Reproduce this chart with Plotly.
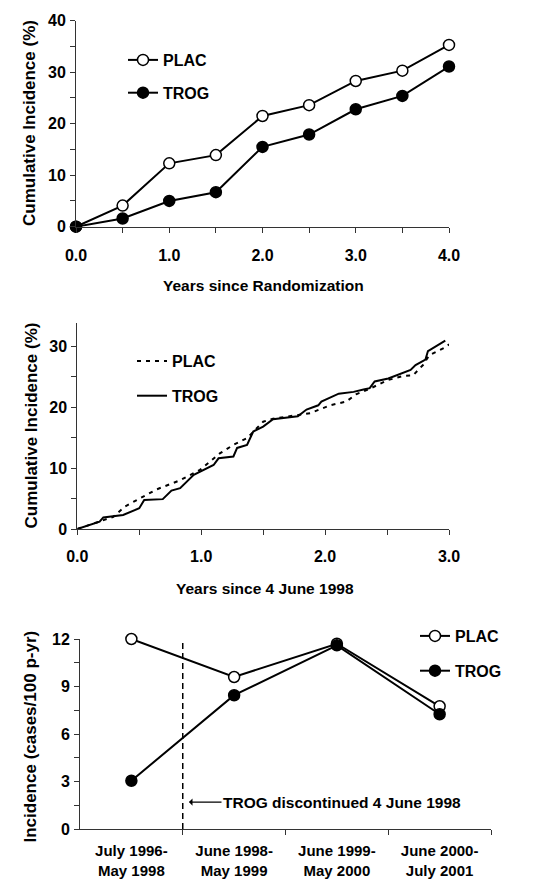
import plotly.graph_objects as go

# ---------------- Data ----------------
# Panel 1: cumulative incidence by years since randomization
years_rand = [0.0, 0.5, 1.0, 1.5, 2.0, 2.5, 3.0, 3.5, 4.0]
plac_cum = [0.0, 4.1, 12.3, 13.9, 21.5, 23.6, 28.3, 30.3, 35.3]
trog_cum = [0.0, 1.6, 5.0, 6.7, 15.5, 17.9, 22.8, 25.4, 31.1]

plac_t = [0.0, 0.13, 0.29, 0.385, 0.53, 0.64, 0.83, 0.99, 1.15, 1.26, 1.37, 1.5, 1.58,
          1.80, 1.88, 2.04, 2.17, 2.25, 2.36, 2.50, 2.63, 2.71, 2.79, 2.84, 2.98, 3.0]
plac_y = [0.0, 0.9, 2.0, 3.7, 5.3, 6.5, 8.0, 9.7, 12.4, 13.8, 14.9, 17.6, 18.1,
          18.7, 19.0, 20.3, 20.9, 22.1, 23.0, 24.4, 25.1, 25.2, 26.9, 28.5, 29.9, 30.3]
trog_t = [0.0, 0.18, 0.21, 0.37, 0.5, 0.54, 0.69, 0.76, 0.83, 0.94, 1.1, 1.14, 1.26,
          1.29, 1.37, 1.42, 1.5, 1.58, 1.78, 1.85, 1.945, 1.97, 2.11, 2.23, 2.31, 2.36,
          2.40, 2.51, 2.69, 2.73, 2.81, 2.83, 2.97]
trog_y = [0.0, 1.2, 1.9, 2.3, 3.4, 4.75, 4.9, 6.3, 6.7, 8.9, 10.5, 11.6, 11.9,
          13.3, 13.8, 16.0, 16.8, 18.0, 18.5, 19.6, 20.3, 20.9, 22.2, 22.5, 22.9, 23.1,
          24.2, 24.7, 26.1, 26.9, 27.8, 29.2, 30.9]

# Panel 3: incidence by period
periods = ["July 1996-<br>May 1998", "June 1998-<br>May 1999",
           "June 1999-<br>May 2000", "June 2000-<br>July 2001"]
period_pos = [0, 1, 2, 3]
plac_inc = [12.0, 9.6, 11.7, 7.75]
trog_inc = [3.05, 8.45, 11.6, 7.25]

FONT = "Liberation Sans"
W, H = 544, 893

def px_x(p):
    return p / W

def px_y(p):
    return (H - p) / H

fig = go.Figure()

open_marker = dict(symbol="circle", size=11, color="white", line=dict(color="black", width=1.5))
fill_marker = dict(symbol="circle", size=11, color="black", line=dict(color="black", width=1.5))

# Panel 1
fig.add_trace(go.Scatter(x=years_rand, y=plac_cum, mode="lines+markers", name="PLAC",
                         line=dict(color="black", width=2), marker=open_marker,
                         xaxis="x", yaxis="y", legend="legend", legendgroup="g0",
                         cliponaxis=False))
fig.add_trace(go.Scatter(x=years_rand, y=trog_cum, mode="lines+markers", name="TROG",
                         line=dict(color="black", width=2), marker=fill_marker,
                         xaxis="x", yaxis="y", legend="legend", legendgroup="g1",
                         cliponaxis=False))
# Panel 2
fig.add_trace(go.Scatter(x=plac_t, y=plac_y, mode="lines", name="PLAC",
                         line=dict(color="black", width=2, dash="4px,5px"),
                         xaxis="x2", yaxis="y2", legend="legend2", legendgroup="g2"))
fig.add_trace(go.Scatter(x=trog_t, y=trog_y, mode="lines", name="TROG",
                         line=dict(color="black", width=2),
                         xaxis="x2", yaxis="y2", legend="legend2", legendgroup="g3"))
# Panel 3
fig.add_trace(go.Scatter(x=period_pos, y=plac_inc, mode="lines+markers", name="PLAC",
                         line=dict(color="black", width=2), marker=open_marker,
                         xaxis="x3", yaxis="y3", legend="legend3", legendgroup="g4",
                         cliponaxis=False))
fig.add_trace(go.Scatter(x=period_pos, y=trog_inc, mode="lines+markers", name="TROG",
                         line=dict(color="black", width=2), marker=fill_marker,
                         xaxis="x3", yaxis="y3", legend="legend3", legendgroup="g5",
                         cliponaxis=False))

tickfont = dict(family=FONT, size=16, color="black", weight="bold")
axcol = "#333333"

def xax(domain, anchor, rng, tickvals, ticktext, minor_dtick, standoff):
    return dict(domain=domain, anchor=anchor, range=rng, tickmode="array",
                tickvals=tickvals, ticktext=ticktext, ticks="outside", ticklen=5,
                tickcolor=axcol, showline=True, linecolor=axcol, linewidth=1,
                showgrid=False, zeroline=False, tickfont=tickfont, automargin=False,
                ticklabelstandoff=standoff,
                minor=dict(dtick=minor_dtick, tick0=0, ticks="outside", ticklen=5,
                           tickcolor=axcol, showgrid=False))

def yax(domain, anchor, rng, dtick, minor_dtick):
    return dict(domain=domain, anchor=anchor, range=rng, tickmode="linear", tick0=0,
                dtick=dtick, ticks="outside", ticklen=5, tickcolor=axcol,
                showline=True, linecolor=axcol, linewidth=1, showgrid=False,
                zeroline=False, tickfont=tickfont, ticklabelstandoff=1, automargin=False,
                minor=dict(dtick=minor_dtick, tick0=0, ticks="outside", ticklen=5,
                           tickcolor=axcol, showgrid=False))

xa1 = xax([px_x(76), px_x(449)], "y", [0, 4], [0, 1, 2, 3, 4],
          ["0.0", "1.0", "2.0", "3.0", "4.0"], 0.5, 9)
ya1 = yax([px_y(226.7), px_y(20.7)], "x", [0, 40], 10, 5)
xa2 = xax([px_x(77.3), px_x(449)], "y2", [0, 3], [0, 1, 2, 3],
          ["0.0", "1.0", "2.0", "3.0"], 0.5, 8)
ya2 = yax([px_y(529), px_y(323)], "x2", [0, 33.8], 10, 5)
xa3 = dict(domain=[px_x(80), px_x(491)], anchor="y3", range=[-0.5, 3.5],
           tickmode="array", tickvals=period_pos, ticktext=periods, ticks="",
           showline=True, linecolor=axcol, linewidth=1, showgrid=False, zeroline=False,
           tickfont=dict(family=FONT, size=15, color="black", weight="bold"),
           ticklabelstandoff=8, automargin=False,
           minor=dict(tickmode="array", tickvals=[0.5, 1.5, 2.5, 3.5], ticks="outside",
                      ticklen=5, tickcolor=axcol, showgrid=False))
ya3 = yax([px_y(829), px_y(639)], "x3", [0, 12], 3, 1.5)

legfont = dict(family=FONT, size=16, color="black", weight="bold")

def leg(x, y, gap):
    return dict(x=x, y=y, xanchor="left", yanchor="top", font=legfont,
                bgcolor="rgba(0,0,0,0)", tracegroupgap=gap, itemwidth=30,
                traceorder="grouped")

title_font = dict(family=FONT, size=17, color="black", weight="bold")
xt_font = dict(family=FONT, size=15.5, color="black", weight="bold")

annotations = [
    dict(text="Cumulative Incidence (%)", x=px_x(30), y=px_y(123), xref="paper", yref="paper",
         xanchor="center", yanchor="middle",
         textangle=-90, showarrow=False, font=title_font),
    dict(text="Years since Randomization", x=px_x(263), y=px_y(286), xref="paper", yref="paper",
         xanchor="center", yanchor="middle", showarrow=False, font=xt_font),
    dict(text="Cumulative Incidence (%)", x=px_x(31), y=px_y(425.5), xref="paper", yref="paper",
         xanchor="center", yanchor="middle",
         textangle=-90, showarrow=False, font=title_font),
    dict(text="Years since 4 June 1998", x=px_x(264.5), y=px_y(588), xref="paper", yref="paper",
         xanchor="center", yanchor="middle", showarrow=False, font=xt_font),
    dict(text="Incidence (cases/100 p-yr)", x=px_x(30), y=px_y(736.5), xref="paper", yref="paper",
         xanchor="center", yanchor="middle",
         textangle=-90, showarrow=False, font=title_font),
    dict(text="TROG discontinued 4 June 1998", x=0.56, y=1.7, xref="x3", yref="y3",
         ax=2.05, ay=1.7, axref="x3", ayref="y3", showarrow=True, arrowhead=1,
         arrowsize=1, arrowwidth=1.2, arrowcolor="black", font=xt_font),
]

shapes = [
    dict(type="line", xref="x3", yref="y3", x0=0.5, x1=0.5, y0=0, y1=12.7,
         line=dict(color="black", width=1.5, dash="6px,4px")),
]

fig.update_layout(
    width=W, height=H, margin=dict(l=0, r=0, t=0, b=0, autoexpand=False),
    plot_bgcolor="white", paper_bgcolor="white",
    xaxis=xa1, yaxis=ya1, xaxis2=xa2, yaxis2=ya2, xaxis3=xa3, yaxis3=ya3,
    legend=leg(px_x(123), px_y(43), 9),
    legend2=leg(px_x(132), px_y(344), 11),
    legend3=leg(px_x(415), px_y(619), 11),
    annotations=annotations, shapes=shapes,
    font=dict(family=FONT, color="black"),
)

fig.write_html("out.html", post_script="document.body.style.margin='0';",
               config={"displayModeBar": False})
